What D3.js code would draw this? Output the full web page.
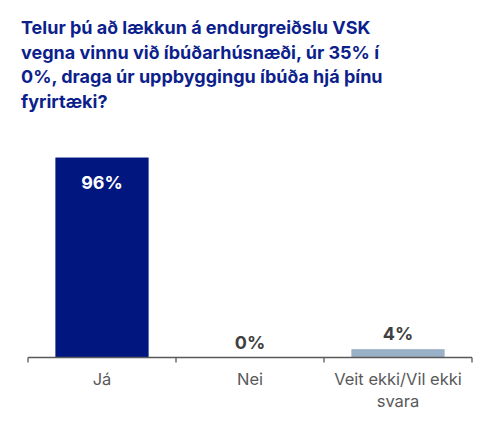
<!DOCTYPE html>
<html>
<head>
<meta charset="utf-8">
<script src="https://cdn.jsdelivr.net/npm/d3@7"></script>
<style>
body { margin: 0; background: #fff; }
svg { display: block; }
</style>
</head>
<body>
<div id="container"></div>
<script>
// chart data
var titleLines = ["Telur þú að lækkun á endurgreiðslu VSK",
	"vegna vinnu við íbúðarhúsnæði, úr 35% í",
	"0%, draga úr uppbyggingu íbúða hjá þínu",
	"fyrirtæki?"];
var categories = ["Já", "Nei", "Veit ekki/Vil ekki svara"];
var catLines = [["Já"], ["Nei"], ["Veit ekki/Vil ekki", "svara"]];
var values = [96, 0, 4];
var valueLabels = ["96%", "0%", "4%"];
var barColors = ["#021680", "#021680", "#98b1c6"];

var width = 500, height = 428;
var margin = {left: 28, right: 28, axisY: 357.5};

var svg = d3.select("#container").append("svg")
	.attr("width", width)
	.attr("height", height);

// title
svg.append("text")
	.attr("x", 21)
	.attr("y", 34)
	.style("font", "bold 18px Inter")
	.style("fill", "#0d1f8c")
	.selectAll("tspan")
	.data(titleLines).enter()
	.append("tspan")
	.attr("x", 21)
	.attr("dy", function(d, i) { return i == 0 ? 0 : 24.5; })
	.text(function(d) { return d; });

var x = d3.scaleBand().domain(categories).range([margin.left, width - margin.right]).padding(0);
var y = d3.scaleLinear().domain([0, 100]).range([margin.axisY, margin.axisY - 208.3]);
var barW = x.bandwidth() * 0.63;

// bars
svg.selectAll(".bar").data(values).enter()
	.append("rect")
	.attr("class", "bar")
	.attr("x", function(d, i) { return x(categories[i]) + (x.bandwidth() - barW) / 2; })
	.attr("y", function(d) { return y(d); })
	.attr("width", barW)
	.attr("height", function(d) { return y(0) - y(d); })
	.style("fill", function(d, i) { return barColors[i]; });

// value labels: inside for tall bars, above for short ones
svg.selectAll(".val").data(values).enter()
	.append("text")
	.attr("class", "val")
	.attr("x", function(d, i) { return x(categories[i]) + x.bandwidth() / 2; })
	.attr("y", function(d) { return d > 50 ? y(d) + 31 : y(d) - 9; })
	.attr("text-anchor", "middle")
	.style("font", "bold 18px Inter")
	.style("fill", function(d) { return d > 50 ? "#ffffff" : "#404040"; })
	.text(function(d, i) { return valueLabels[i]; });

// axis line with ticks at band boundaries
var tickPos = categories.map(function(c) { return x(c); }).concat([x.range()[1]]);
svg.append("line")
	.attr("x1", x.range()[0]).attr("x2", x.range()[1])
	.attr("y1", y(0)).attr("y2", y(0))
	.style("stroke", "#595959").style("stroke-width", 1.3);
svg.selectAll(".tick").data(tickPos).enter()
	.append("line")
	.attr("class", "tick")
	.attr("x1", function(d) { return d; }).attr("x2", function(d) { return d; })
	.attr("y1", y(0)).attr("y2", y(0) + 5)
	.style("stroke", "#595959").style("stroke-width", 1.3);

// category labels
svg.selectAll(".cat").data(catLines).enter()
	.append("text")
	.attr("class", "cat")
	.attr("text-anchor", "middle")
	.attr("y", 385)
	.style("font", "16.5px Inter")
	.style("fill", "#595959")
	.each(function(lines, i) {
		var cx = x(categories[i]) + x.bandwidth() / 2;
		d3.select(this).selectAll("tspan").data(lines).enter()
			.append("tspan")
			.attr("x", cx)
			.attr("dy", function(d, j) { return j == 0 ? 0 : 22; })
			.text(function(d) { return d; });
	});
</script>
</body>
</html>
